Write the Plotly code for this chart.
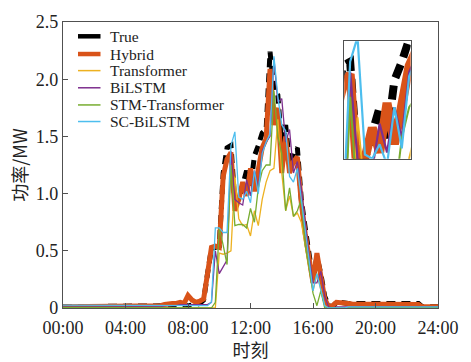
import plotly.graph_objects as go

# Time of day in hours, 15-minute steps (00:00 ... 24:00)
hours = [i * 0.25 for i in range(97)]

# 00:00-07:45
true_night_am = [0.01, 0.01, 0.01, 0.01, 0.01, 0.01, 0.01, 0.01, 0.01, 0.01, 0.01, 0.01,
                 0.01, 0.01, 0.01, 0.01, 0.01, 0.01, 0.01, 0.01, 0.01, 0.01, 0.01, 0.01,
                 0.01, 0.02, 0.02, 0.02, 0.03, 0.02, 0.02, 0.01]
hybrid_night_am = [0.01, 0.01, 0.01, 0.01, 0.01, 0.01, 0.01, 0.01, 0.01, 0.01, 0.01, 0.01,
                   0.01, 0.01, 0.01, 0.01, 0.01, 0.01, 0.01, 0.01, 0.01, 0.02, 0.02, 0.02,
                   0.02, 0.02, 0.03, 0.04, 0.04, 0.04, 0.05, 0.04]
trans_night_am = [0.00, 0.00, 0.00, 0.00, 0.00, 0.00, 0.00, 0.00, 0.00, 0.00, 0.00, 0.00,
                  0.00, 0.00, 0.00, 0.00, 0.00, 0.00, 0.00, 0.00, 0.00, 0.00, 0.00, 0.00,
                  0.00, 0.00, 0.00, 0.00, 0.00, 0.00, 0.00, 0.00]
bilstm_night_am = [0.01, 0.01, 0.01, 0.01, 0.01, 0.01, 0.01, 0.01, 0.01, 0.01, 0.01, 0.01,
                   0.01, 0.01, 0.01, 0.01, 0.01, 0.01, 0.01, 0.01, 0.01, 0.01, 0.01, 0.01,
                   0.01, 0.01, 0.02, 0.02, 0.02, 0.02, 0.03, 0.03]
stm_night_am = [0.005, 0.005, 0.005, 0.005, 0.005, 0.005, 0.005, 0.005, 0.005, 0.005, 0.005, 0.005,
                0.005, 0.005, 0.005, 0.005, 0.005, 0.005, 0.005, 0.005, 0.005, 0.005, 0.005, 0.005,
                0.005, 0.005, 0.005, 0.005, 0.005, 0.005, 0.005, 0.005]
sc_night_am = [0.025, 0.025, 0.025, 0.025, 0.025, 0.025, 0.025, 0.025, 0.025, 0.025, 0.025, 0.025,
               0.025, 0.025, 0.025, 0.025, 0.025, 0.025, 0.025, 0.025, 0.025, 0.025, 0.025, 0.025,
               0.025, 0.025, 0.025, 0.025, 0.025, 0.025, 0.025, 0.025]

# 08:00-18:00
true_day = [0.02, 0.02, 0.03, 0.04, 0.07, 0.30, 0.52, 0.53,
            0.54, 1.18, 1.40, 1.42, 0.92, 0.95, 1.08, 1.20,
            1.05, 1.33, 1.42, 1.53, 1.56, 2.24, 1.90, 1.86,
            1.40, 1.60, 1.25, 1.36, 1.40, 0.95, 0.70, 0.45,
            0.24, 0.45, 0.30, 0.10, 0.02, 0.01, 0.05, 0.05, 0.04]
hybrid_day = [0.11, 0.07, 0.05, 0.06, 0.08, 0.30, 0.53, 0.54,
              0.53, 1.15, 1.30, 1.36, 0.85, 0.95, 1.10, 0.98,
              1.22, 1.02, 1.22, 1.40, 1.48, 2.09, 1.60, 1.75,
              1.18, 1.50, 1.18, 1.28, 1.32, 0.92, 0.65, 0.40,
              0.22, 0.48, 0.30, 0.08, 0.01, 0.02, 0.05, 0.05, 0.04]
trans_day = [0.00, 0.00, 0.00, 0.00, 0.00, 0.00, 0.00, 0.00,
             0.48, 0.47, 0.48, 0.50, 1.15, 0.78, 0.72, 0.73,
             0.63, 0.85, 0.72, 0.95, 1.10, 1.20, 1.22, 1.65,
             1.18, 0.85, 0.98, 0.80, 0.83, 0.75, 0.55, 0.35,
             0.15, 0.30, 0.15, 0.02, 0.00, 0.00, 0.00, 0.00, 0.00]
bilstm_day = [0.03, 0.03, 0.03, 0.03, 0.03, 0.03, 0.05, 0.50,
              0.30, 0.36, 0.42, 1.37, 0.95, 0.92, 0.90, 1.12,
              0.98, 1.20, 1.05, 1.37, 1.45, 1.50, 2.18, 1.80,
              1.83, 1.45, 1.56, 1.18, 1.28, 1.05, 0.75, 0.45,
              0.22, 0.22, 0.32, 0.10, 0.01, 0.00, 0.01, 0.01, 0.01]
stm_day = [0.00, 0.00, 0.00, 0.00, 0.00, 0.00, 0.00, 0.05,
           0.70, 0.55, 0.38, 1.25, 0.72, 0.73, 0.73, 0.70,
           0.87, 0.75, 1.05, 1.20, 1.25, 1.25, 1.90, 1.50,
           1.35, 0.85, 1.05, 0.80, 0.85, 0.95, 0.55, 0.35,
           0.13, 0.02, 0.15, 0.00, 0.00, 0.00, 0.00, 0.00, 0.00]
sc_day = [0.02, 0.02, 0.02, 0.02, 0.02, 0.02, 0.05, 0.70,
          0.70, 0.66, 0.66, 1.42, 1.54, 0.97, 0.95, 1.02,
          0.92, 1.20, 1.00, 1.35, 1.45, 1.52, 2.20, 1.85,
          1.60, 1.55, 1.15, 1.10, 1.22, 0.95, 0.70, 0.40,
          0.15, 0.30, 0.15, 0.02, 0.00, 0.00, 0.00, 0.00, 0.00]

# 18:15-24:00
true_night_pm = [0.04, 0.04, 0.04, 0.04, 0.04, 0.04, 0.04, 0.04, 0.04, 0.04, 0.04, 0.04,
                 0.04, 0.04, 0.04, 0.04, 0.04, 0.04, 0.04, 0.01, 0.01, 0.01, 0.01, 0.01]
hybrid_night_pm = [0.04, 0.035, 0.035, 0.035, 0.035, 0.035, 0.035, 0.035, 0.035, 0.035, 0.035, 0.035,
                   0.035, 0.035, 0.035, 0.035, 0.035, 0.035, 0.03, 0.01, 0.01, 0.01, 0.01, 0.01]
trans_night_pm = [0.00, 0.00, 0.00, 0.00, 0.00, 0.00, 0.00, 0.00, 0.00, 0.00, 0.00, 0.00,
                  0.00, 0.00, 0.00, 0.00, 0.00, 0.00, 0.00, 0.00, 0.00, 0.00, 0.00, 0.00]
bilstm_night_pm = [0.01, 0.01, 0.01, 0.01, 0.01, 0.01, 0.01, 0.01, 0.01, 0.01, 0.01, 0.01,
                   0.01, 0.01, 0.01, 0.01, 0.01, 0.01, 0.01, 0.01, 0.01, 0.01, 0.01, 0.01]
stm_night_pm = [0.005, 0.005, 0.005, 0.005, 0.005, 0.005, 0.005, 0.005, 0.005, 0.005, 0.005, 0.005,
                0.005, 0.005, 0.005, 0.005, 0.005, 0.005, 0.005, 0.005, 0.005, 0.005, 0.005, 0.005]
sc_night_pm = [0.01, 0.01, 0.01, 0.01, 0.01, 0.01, 0.01, 0.01, 0.01, 0.01, 0.01, 0.01,
               0.01, 0.01, 0.01, 0.01, 0.01, 0.01, 0.01, 0.01, 0.01, 0.01, 0.01, 0.01]

true_power = true_night_am + true_day + true_night_pm
hybrid = hybrid_night_am + hybrid_day + hybrid_night_pm
transformer = trans_night_am + trans_day + trans_night_pm
bilstm = bilstm_night_am + bilstm_day + bilstm_night_pm
stm_transformer = stm_night_am + stm_day + stm_night_pm
sc_bilstm = sc_night_am + sc_day + sc_night_pm

tick_vals = [0, 4, 8, 12, 16, 20, 24]
tick_text = ["00:00", "04:00", "08:00", "12:00", "16:00", "20:00", "24:00"]
y_tick_vals = [0, 0.5, 1.0, 1.5, 2.0, 2.5]
y_tick_text = ["0", "0.5", "1.0", "1.5", "2.0", "2.5"]

# name, values, colour, main width, dash, inset width
series = [
    ("True", true_power, "#000000", 5, "9px,6px", 8),
    ("Hybrid", hybrid, "#D95319", 5, "solid", 9),
    ("Transformer", transformer, "#EDB120", 1.3, "solid", 2),
    ("BiLSTM", bilstm, "#7E2F8E", 1.3, "solid", 2.2),
    ("STM-Transformer", stm_transformer, "#77AC30", 1.3, "solid", 2),
    ("SC-BiLSTM", sc_bilstm, "#4DBEEE", 1.3, "solid", 2.2),
]

fig = go.Figure()
for name, vals, color, width, dash, _ in series:
    assert len(vals) == len(hours)
    fig.add_trace(go.Scatter(x=hours, y=vals, mode="lines", name=name, showlegend=False,
                             line=dict(color=color, width=width, dash=dash),
                             xaxis="x", yaxis="y"))
# Magnified view of the late-morning section
for name, vals, color, _, dash, iw in series:
    inset_dash = "14px,8px" if dash != "solid" else dash
    fig.add_trace(go.Scatter(x=hours, y=vals, mode="lines", name=name, showlegend=False,
                             line=dict(color=color, width=iw, dash=inset_dash),
                             xaxis="x2", yaxis="y2"))

serif = "Liberation Serif, Times New Roman, serif"
frame = "#505050"

# Legend drawn in the upper-left corner of the plot area
leg_x0, leg_x1, leg_text_x = 0.040, 0.100, 0.121
leg_rows = [0.950, 0.888, 0.830, 0.770, 0.710, 0.652]
shapes = []
annotations = []
for (name, _, color, width, _, _), ly in zip(series, leg_rows):
    shapes.append(dict(type="line", xref="paper", yref="paper",
                       x0=leg_x0, x1=leg_x1, y0=ly, y1=ly,
                       line=dict(color=color, width=4.5 if width > 2 else 1.5)))
    annotations.append(dict(xref="paper", yref="paper", x=leg_text_x, y=ly,
                            xanchor="left", yanchor="middle", showarrow=False,
                            text=name, font=dict(family=serif, size=15.5, color="#222222")))

fig.update_layout(
    width=471, height=362,
    margin=dict(l=63, r=29, t=15, b=48),
    paper_bgcolor="white", plot_bgcolor="white",
    font=dict(family=serif, size=18, color="#222222"),
    showlegend=False,
    shapes=shapes,
    annotations=annotations,
    xaxis=dict(range=[0, 24], tickvals=tick_vals, ticktext=tick_text,
               ticks="inside", ticklen=5, tickcolor=frame, ticklabelstandoff=3,
               showline=True, linecolor=frame, linewidth=1.3, mirror=True,
               showgrid=False, zeroline=False,
               title=dict(text="时刻", standoff=0,
                          font=dict(family="Noto Sans CJK SC", size=18))),
    yaxis=dict(range=[0, 2.5], tickvals=y_tick_vals, ticktext=y_tick_text,
               ticks="inside", ticklen=5, tickcolor=frame,
               showline=True, linecolor=frame, linewidth=1.3, mirror=True,
               showgrid=False, zeroline=False,
               title=dict(text="功率/MW", standoff=3,
                          font=dict(family="Noto Sans CJK SC", size=18))),
    xaxis2=dict(domain=[0.75, 0.927], anchor="y2", range=[10.55, 12.8],
                showticklabels=False, ticks="", showgrid=False, zeroline=False,
                showline=True, linecolor=frame, linewidth=1.3, mirror=True),
    yaxis2=dict(domain=[0.522, 0.933], anchor="x2", range=[0.95, 1.52],
                showticklabels=False, ticks="", showgrid=False, zeroline=False,
                showline=True, linecolor=frame, linewidth=1.3, mirror=True),
)

fig.write_html("out.html")
